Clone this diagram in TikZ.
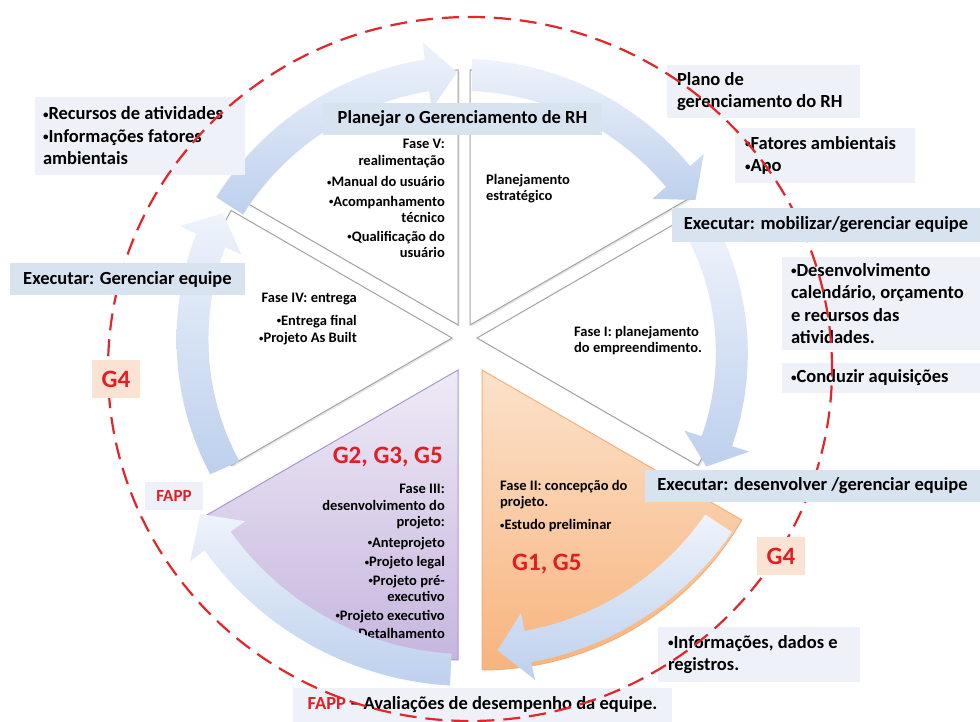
\documentclass[tikz,border=0pt]{standalone}
\usepackage{fontspec}
\setmainfont{Carlito}
\usetikzlibrary{shadows}
\definecolor{headfill}{HTML}{D8E3F0}
\definecolor{notefill}{HTML}{EEF2F8}
\definecolor{gfill}{HTML}{FBE3D4}
\definecolor{gred}{HTML}{E31D24}
\definecolor{ringtop}{HTML}{EEF3FB}
\definecolor{ringbot}{HTML}{BDD0ED}
\definecolor{wedgeline}{HTML}{A3A3A3}
\definecolor{orangetop}{HTML}{FCE2CB}
\definecolor{orangebot}{HTML}{F7B47D}
\definecolor{orangeline}{HTML}{F2B07E}
\definecolor{purpletop}{HTML}{EFEAF6}
\definecolor{purplebot}{HTML}{C6B6DE}
\definecolor{purpleline}{HTML}{A897CF}
\definecolor{dashred}{HTML}{E2262B}
\newcommand{\bul}{\raisebox{0.08em}{\scalebox{0.6}{•}}}
\tikzset{
  whitewedge/.style={fill=white, draw=wedgeline, line width=1pt,
    drop shadow={opacity=0.2, shadow xshift=1.5pt, shadow yshift=-1.5pt}},
  ringshade/.style={top color=ringtop, bottom color=ringbot},
  headbox/.style={fill=headfill, inner sep=0pt, font=\fontsize{18.5}{22.5}\selectfont\bfseries},
  notebox/.style={fill=notefill, inner ysep=0pt, inner xsep=10pt, align=flush left,
    font=\fontsize{18.5}{22.5}\selectfont\bfseries},
  gbox/.style={fill=gfill, text=gred, minimum width=48pt, minimum height=38pt, inner sep=0pt,
    font=\fontsize{25}{30}\selectfont\bfseries},
  wedgetext/.style={inner sep=0pt, font=\fontsize{14.5}{16.5}\selectfont\bfseries},
  bigred/.style={inner sep=0pt, text=gred, font=\fontsize{25}{30}\selectfont\bfseries},
}
\newcommand{\ringarrow}[4]{%
  \pgfmathsetmacro{\hb}{#2+6}%
  \pgfmathsetmacro{\rh}{#3+(\hb-(#1))*(#4-(#3))/(#2-(#1))}%
  \shade[ringshade]
    plot[domain=#1:\hb, samples=30] ({467+(#3+(\x-(#1))*(#4-(#3))/(#2-(#1))+16)*cos(\x)}, {362+(#3+(\x-(#1))*(#4-(#3))/(#2-(#1))+16)*sin(\x)})
    -- ({467+(\rh+34)*cos(\hb)}, {362+(\rh+34)*sin(\hb)})
    -- ({467+(#4)*cos(#2)}, {362+(#4)*sin(#2)})
    -- ({467+(\rh-34)*cos(\hb)}, {362+(\rh-34)*sin(\hb)})
    -- plot[domain=\hb:#1, samples=30] ({467+(#3+(\x-(#1))*(#4-(#3))/(#2-(#1))-16)*cos(\x)}, {362+(#3+(\x-(#1))*(#4-(#3))/(#2-(#1))-16)*sin(\x)})
    -- cycle;
}
\begin{document}
\begin{tikzpicture}[x=1pt,y=1pt]
  \useasboundingbox (0,0) rectangle (980,722);
  \coordinate (o5) at (458,397);
  \coordinate (o0) at (470,397);
  \coordinate (o1) at (477,384);
  \coordinate (o2) at (482,352);
  \coordinate (o3) at (458,352);
  \coordinate (o4) at (452,384);
  \filldraw[whitewedge] (o5) -- ++(90:255) arc[start angle=90, end angle=150, radius=255] -- cycle;
  \filldraw[whitewedge] (o0) -- ++(30:255) arc[start angle=30, end angle=90, radius=255] -- cycle;
  \filldraw[whitewedge] (o1) -- ++(-30:255) arc[start angle=-30, end angle=30, radius=255] -- cycle;
  \filldraw[whitewedge] (o4) -- ++(150:255) arc[start angle=150, end angle=210, radius=255] -- cycle;
  \path[draw=orangeline, line width=1pt, top color=orangetop, bottom color=orangebot]
    (o2) -- ++(-90:300) arc[start angle=-90, end angle=-30, radius=300] -- cycle;
  \path[draw=purpleline, line width=1pt, top color=purpletop, bottom color=purplebot]
    (o3) -- ++(210:290) arc[start angle=210, end angle=270, radius=290] -- cycle;

  \node[wedgetext, anchor=north east, align=right] (fasev) at (445,583)
    {Fase V:\\realimentação\\[5pt]\bul Manual do usuário\\[3pt]\bul Acompanhamento\\técnico\\[2pt]\bul Qualificação do\\usuário};
  \node[wedgetext, anchor=north west, align=left] (estrategico) at (486,548) {Planejamento\\estratégico};
  \node[wedgetext, anchor=north west, align=left] (fasei) at (574,396) {Fase I: planejamento\\do empreendimento.};
  \node[wedgetext, anchor=north east, align=right] (faseiv) at (357,429)
    {Fase IV: entrega\\[6pt]\bul Entrega final\\[1pt]\bul Projeto As Built};
  \node[bigred, anchor=east] (gtres) at (443,265) {G2, G3, G5};
  \node[wedgetext, anchor=north east, align=right] (faseiii) at (445,238)
    {Fase III:\\desenvolvimento do\\projeto:\\[4pt]\bul Anteprojeto\\[3pt]\bul Projeto legal\\[2pt]\bul Projeto pré-\\executivo\\[2pt]\bul Projeto executivo\\[2pt]\bul Detalhamento};
  \node[wedgetext, anchor=north west, align=left] (faseii) at (500,242)
    {Fase II: concepção do\\projeto.\\[6pt]\bul Estudo preliminar};
  \node[bigred, anchor=west] (gum) at (512,158) {G1, G5};

  \foreach \ta/\tb/\ra/\rb in {147/92/283/288, 89/35/285/279, 28/-24/268/262,
      -33/-84/300/292, -93/-150/310/308, 204/149/265/285}
    \ringarrow{\ta}{\tb}{\ra}{\rb};

  \node[notebox, text width=194pt, minimum height=78pt, inner xsep=8pt] (recursos) at (140,586)
    {\bul Recursos de atividades\\\bul Informações fatores\\ambientais};
  \node[notebox, text width=173pt, minimum height=53pt] (plano) at (763.5,630.5) {Plano de\\gerenciamento do RH};
  \node[notebox, text width=160pt, minimum height=55pt] (fatores) at (825,566.5) {\bul Fatores ambientais\\\bul Apo};
  \node[notebox, text width=180pt, minimum height=93pt, inner xsep=9pt] (desenv) at (881,418.5)
    {\bul Desenvolvimento\\calendário, orçamento\\e recursos das\\atividades.};
  \node[notebox, text width=180pt, minimum height=30pt, inner xsep=9pt] (conduzir) at (881,344) {\bul Conduzir aquisições};
  \node[notebox, text width=182pt, minimum height=55pt] (informacoes) at (759,67.5) {\bul Informações, dados e\\registros.};
  \node[notebox, align=center, inner xsep=0pt, minimum width=379pt, minimum height=34pt] (avaliacao) at (482.5,17)
    {\textcolor{gred}{FAPP} – Avaliações de desempenho da equipe.};
  \node[notebox, text=gred, align=center, inner xsep=0pt, minimum width=58pt, minimum height=28pt,
    font=\fontsize{17}{20}\selectfont\bfseries] (fapp) at (174,226) {FAPP};

  \draw[dashred, line width=2.2pt, dash pattern=on 17pt off 9pt] (470,353) ellipse [x radius=362, y radius=352];

  \node[headbox, minimum width=279pt, minimum height=32pt] (planejar) at (462.5,603) {Planejar o Gerenciamento de RH};
  \node[headbox, minimum width=308pt, minimum height=34pt] (mobilizar) at (826,497) {Executar: mobilizar/gerenciar equipe};
  \node[headbox, minimum width=335pt, minimum height=32pt] (desenvolver) at (812.5,236) {Executar: desenvolver /gerenciar equipe};
  \node[headbox, minimum width=235pt, minimum height=32pt] (gerenciar) at (127.5,443) {Executar: Gerenciar equipe};
  \node[gbox] (gquatroa) at (781,166) {G4};
  \node[gbox] (gquatrob) at (116,343) {G4};
\end{tikzpicture}
\end{document}
